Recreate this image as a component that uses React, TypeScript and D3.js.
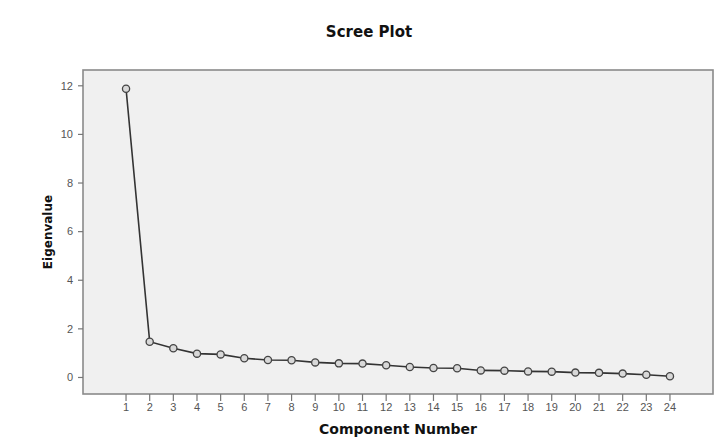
import React, { useRef, useEffect } from 'react';
import * as d3 from 'd3';

const components = [1, 2, 3, 4, 5, 6, 7, 8, 9, 10, 11, 12, 13, 14, 15, 16, 17, 18, 19, 20, 21, 22, 23, 24];
const eigenvalues = [11.88, 1.47, 1.2, 0.98, 0.95, 0.79, 0.72, 0.71, 0.62, 0.58, 0.57, 0.5, 0.43, 0.39, 0.38, 0.29, 0.28, 0.25, 0.24, 0.2, 0.19, 0.16, 0.11, 0.05];
const yTicks = [0, 2, 4, 6, 8, 10, 12];

function ScreePlot() {
  const svgRef = useRef<SVGSVGElement>(null);

  useEffect(() => {
    const svg = d3.select(svgRef.current);
    svg.selectAll("*").remove();

    const width = 716;
    const height = 447;
    const left = 83, right = 713, top = 70, bottom = 394;

    const x = d3.scaleLinear().domain([-0.82, 25.82]).range([left, right]);
    const y = d3.scaleLinear().domain([-0.68, 12.65]).range([bottom, top]);

    svg.attr("width", width).attr("height", height);

    svg.append("rect")
      .attr("x", left).attr("y", top)
      .attr("width", right - left).attr("height", bottom - top)
      .attr("fill", "#f0f0f0")
      .attr("stroke", "#8a8a8a")
      .attr("stroke-width", 1.6);

    // y axis ticks
    const yg = svg.append("g");
    yg.selectAll("line")
      .data(yTicks)
      .enter()
      .append("line")
      .attr("x1", left - 5).attr("x2", left)
      .attr("y1", d => y(d)).attr("y2", d => y(d))
      .attr("stroke", "#777").attr("stroke-width", 1.2);
    yg.selectAll("text")
      .data(yTicks)
      .enter()
      .append("text")
      .attr("x", left - 10)
      .attr("y", d => y(d))
      .attr("dy", "0.35em")
      .attr("text-anchor", "end")
      .style("font-family", "Liberation Sans, Arial, sans-serif")
      .style("font-size", "11px")
      .attr("fill", "#555")
      .text(d => d);

    // x axis ticks
    const xg = svg.append("g");
    xg.selectAll("line")
      .data(components)
      .enter()
      .append("line")
      .attr("x1", d => x(d)).attr("x2", d => x(d))
      .attr("y1", bottom).attr("y2", bottom + 7)
      .attr("stroke", "#777").attr("stroke-width", 1.2);
    xg.selectAll("text")
      .data(components)
      .enter()
      .append("text")
      .attr("x", d => x(d))
      .attr("y", bottom + 17)
      .attr("text-anchor", "middle")
      .style("font-family", "Liberation Sans, Arial, sans-serif")
      .style("font-size", "11px")
      .attr("fill", "#555")
      .text(d => d);

    const pts = components.map((c, i) => [c, eigenvalues[i]] as [number, number]);

    const line = d3.line<[number, number]>()
      .x(d => x(d[0]))
      .y(d => y(d[1]));

    svg.append("path")
      .datum(pts)
      .attr("d", line)
      .attr("fill", "none")
      .attr("stroke", "#333")
      .attr("stroke-width", 1.6);

    svg.selectAll("circle")
      .data(pts)
      .enter()
      .append("circle")
      .attr("cx", d => x(d[0]))
      .attr("cy", d => y(d[1]))
      .attr("r", 3.6)
      .attr("fill", "#d8d8d8")
      .attr("stroke", "#444")
      .attr("stroke-width", 1.3);

    svg.append("text")
      .attr("x", 369).attr("y", 37)
      .attr("text-anchor", "middle")
      .style("font-family", "DejaVu Sans, sans-serif")
      .style("font-weight", "bold")
      .style("font-size", "15px")
      .attr("fill", "#111")
      .text("Scree Plot");

    svg.append("text")
      .attr("x", (left + right) / 2).attr("y", 434)
      .attr("text-anchor", "middle")
      .style("font-family", "DejaVu Sans, sans-serif")
      .style("font-weight", "bold")
      .style("font-size", "14px")
      .attr("fill", "#111")
      .text("Component Number");

    svg.append("text")
      .attr("transform", `translate(52, ${232}) rotate(-90)`)
      .attr("text-anchor", "middle")
      .style("font-family", "DejaVu Sans, sans-serif")
      .style("font-weight", "bold")
      .style("font-size", "12px")
      .attr("fill", "#111")
      .text("Eigenvalue");
  }, []);

  return <svg ref={svgRef} style={{ position: "absolute", left: 0, top: 0 }}></svg>;
}

export default function App() {
  return <ScreePlot />;
}
